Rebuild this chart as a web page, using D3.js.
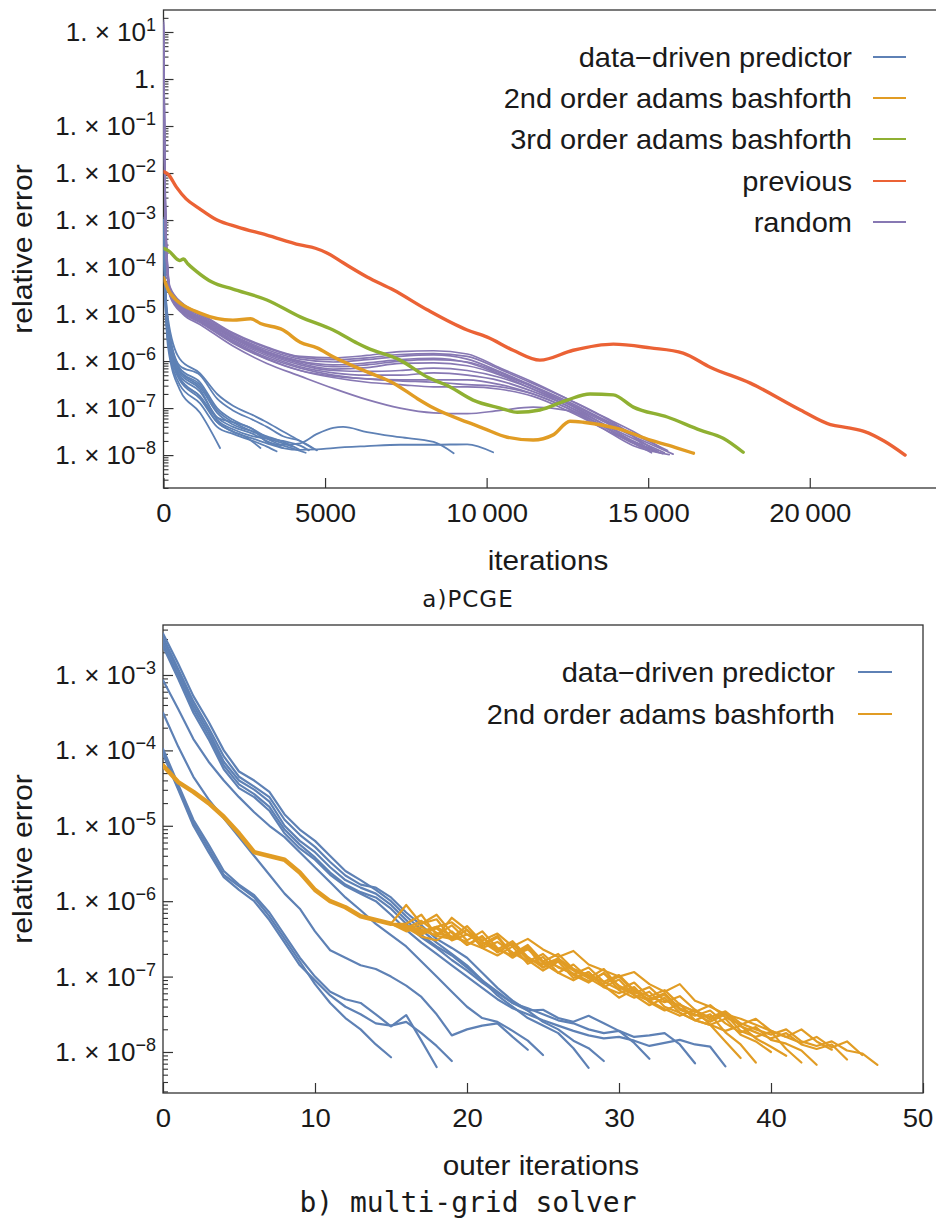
<!DOCTYPE html>
<html><head><meta charset="utf-8">
<script src="https://cdn.jsdelivr.net/npm/d3@7"></script>
<style>
body{margin:0;background:#fff}
svg{display:block}
text{font-family:"Liberation Sans",Arial,sans-serif;fill:#1a1a1a}
</style>
</head><body><svg id="c" width="936" height="1224"></svg>
<script>
// ================= DATA (values are log10 of relative error) =================
// ---- (a) PCGE : [iteration, log10(error)] ----
const pcgeLegend = ["data\u2212driven predictor","2nd order adams bashforth","3rd order adams bashforth","previous","random"];
const previousRun = [[0,-1.97],[150,-2.03],[400,-2.3],[700,-2.55],[1100,-2.75],[1660,-3.0],[2300,-3.15],[3200,-3.32],[4230,-3.53],[4700,-3.6],[5060,-3.7],[5560,-3.91],[6300,-4.21],[7120,-4.49],[8160,-4.91],[9400,-5.34],[10020,-5.49],[10820,-5.77],[11650,-5.98],[12680,-5.77],[13920,-5.64],[15070,-5.72],[16080,-5.83],[16920,-6.13],[18160,-6.47],[19710,-7.04],[20640,-7.35],[21200,-7.42],[21700,-7.5],[22300,-7.7],[22950,-8.0]];
const ab3Run = [[0,-3.6],[150,-3.65],[500,-3.86],[620,-3.83],[750,-3.93],[1000,-4.08],[1500,-4.32],[2150,-4.47],[3200,-4.7],[4230,-5.06],[5250,-5.34],[6000,-5.62],[6300,-5.72],[7320,-5.98],[8160,-6.34],[8870,-6.55],[9580,-6.83],[10420,-7.0],[10950,-7.09],[11650,-7.04],[12490,-6.83],[13200,-6.7],[13920,-6.72],[14540,-6.98],[15590,-7.19],[16610,-7.47],[17320,-7.64],[17940,-7.94]];
const ab2Run = [[0,-4.23],[200,-4.55],[1130,-4.98],[2150,-5.13],[2700,-5.1],[3000,-5.2],[3700,-5.34],[4230,-5.6],[4750,-5.72],[5250,-5.91],[6300,-6.23],[7120,-6.47],[7860,-6.8],[8360,-7.0],[9400,-7.3],[9900,-7.43],[10640,-7.62],[11440,-7.68],[12060,-7.57],[12580,-7.28],[12990,-7.3],[14030,-7.43],[15070,-7.68],[15900,-7.85],[16400,-7.96]];
const ddpRuns = [
 [[0,-3.0],[50,-4.5],[140,-5.7],[500,-6.6],[1130,-7.1],[1750,-7.85]],
 [[0,-3.1],[50,-4.6],[140,-5.5],[500,-6.3],[1130,-6.65],[1660,-7.2],[2150,-7.4],[2770,-7.55],[3200,-7.7],[3700,-7.85]],
 [[0,-3.0],[50,-4.4],[140,-5.3],[500,-6.2],[1130,-6.55],[1660,-7.1],[2150,-7.35],[2770,-7.5],[3200,-7.6],[3700,-7.72],[4200,-7.88]],
 [[0,-3.05],[50,-4.5],[140,-5.4],[500,-6.35],[1130,-6.75],[1660,-7.2],[2150,-7.3],[2770,-7.45],[3200,-7.72],[3700,-7.8],[4400,-7.95]],
 [[0,-2.95],[50,-4.3],[140,-5.2],[500,-6.1],[1130,-6.3],[1660,-6.8],[2150,-7.05],[2770,-7.25],[3200,-7.4],[3700,-7.6],[4230,-7.7],[4750,-7.9]],
 [[0,-3.0],[50,-4.4],[140,-5.35],[500,-6.25],[1130,-6.6],[1660,-7.25],[2150,-7.45],[2770,-7.6],[3200,-7.65],[3700,-7.75],[4000,-7.82]],
 [[0,-3.0],[50,-4.5],[140,-5.5],[500,-6.4],[1130,-6.8],[1660,-7.3],[2150,-7.5],[2770,-7.65],[3200,-7.75],[3700,-7.85],[4230,-7.89],[4750,-7.88],[5250,-7.85],[6300,-7.81],[7320,-7.78],[8360,-7.78],[9400,-7.77],[10200,-7.94]],
 [[0,-3.0],[50,-4.4],[140,-5.3],[500,-6.2],[1130,-6.5],[1660,-7.05],[2150,-7.3],[2770,-7.5],[3200,-7.65],[3700,-7.78],[4230,-7.75],[4750,-7.55],[5250,-7.42],[5560,-7.4],[6300,-7.51],[7320,-7.62],[8360,-7.72],[8980,-7.96]],
 [[0,-3.1],[50,-4.6],[140,-5.6],[500,-6.5],[1130,-6.9],[1660,-7.4],[2150,-7.55],[2770,-7.7],[3200,-7.82],[3500,-7.92]],
 [[0,-3.0],[50,-4.35],[140,-5.25],[500,-6.15],[1130,-6.45],[1660,-7.0],[2150,-7.25],[2770,-7.45],[3200,-7.62],[3700,-7.7],[4230,-7.8],[4500,-7.9]],
 [[0,-3.0],[50,-4.3],[140,-5.1],[500,-5.95],[1130,-6.26],[1660,-6.7],[2150,-6.95],[2770,-7.15],[3200,-7.3],[3700,-7.5],[4230,-7.7],[4600,-7.85]],
 [[0,-3.05],[50,-4.5],[140,-5.45],[500,-6.4],[1130,-6.75],[1660,-7.3],[2150,-7.5],[2500,-7.6],[3000,-7.85]]
];
const randomIters = [0,25,50,90,200,600,1130,2150,3200,4230,5250,6300,7320,8360,9400,10420,11440,12490,13510,14540];
const randomRuns = [
 [1.2,-0.6,-2.3,-3.5,-4.45,-4.8,-5.0,-5.42,-5.72,-5.92,-5.97,-5.93,-5.86,-5.84,-5.9,-6.18,-6.48,-6.8,-7.15,-7.5],
 [1.15,-0.7,-2.4,-3.55,-4.48,-4.83,-5.03,-5.45,-5.76,-5.96,-6.02,-5.97,-5.9,-5.87,-5.96,-6.23,-6.53,-6.85,-7.2,-7.55],
 [1.1,-0.8,-2.45,-3.6,-4.5,-4.86,-5.06,-5.48,-5.8,-6.0,-6.08,-6.04,-5.97,-5.94,-6.03,-6.28,-6.55,-6.9,-7.25,-7.6],
 [1.0,-0.9,-2.5,-3.6,-4.52,-4.88,-5.08,-5.5,-5.83,-6.05,-6.17,-6.14,-6.05,-6.04,-6.1,-6.3,-6.6,-6.9,-7.3,-7.65],
 [0.9,-1.0,-2.55,-3.65,-4.53,-4.9,-5.1,-5.52,-5.85,-6.08,-6.2,-6.22,-6.2,-6.15,-6.2,-6.35,-6.6,-6.95,-7.3,-7.7],
 [0.8,-1.1,-2.6,-3.7,-4.55,-4.92,-5.12,-5.55,-5.88,-6.12,-6.25,-6.3,-6.3,-6.25,-6.3,-6.42,-6.65,-6.95,-7.35,-7.72],
 [0.7,-1.2,-2.65,-3.7,-4.56,-4.93,-5.14,-5.58,-5.92,-6.15,-6.3,-6.38,-6.4,-6.4,-6.4,-6.5,-6.7,-7.0,-7.35,-7.75],
 [0.6,-1.3,-2.7,-3.75,-4.58,-4.95,-5.16,-5.6,-5.95,-6.2,-6.35,-6.45,-6.5,-6.55,-6.55,-6.6,-6.75,-7.05,-7.4,-7.8],
 [0.5,-1.4,-2.75,-3.8,-4.6,-4.97,-5.18,-5.62,-5.96,-6.2,-6.32,-6.38,-6.42,-6.45,-6.5,-6.55,-6.7,-7.0,-7.4,-7.75],
 [0.4,-1.5,-2.8,-3.85,-4.62,-5.0,-5.22,-5.68,-6.05,-6.32,-6.58,-6.82,-7.0,-7.1,-7.12,-7.05,-6.98,-7.05,-7.35,-7.72],
 [1.25,-0.5,-2.2,-3.45,-4.42,-4.78,-4.98,-5.4,-5.7,-5.9,-5.93,-5.88,-5.8,-5.78,-5.85,-6.15,-6.45,-6.8,-7.15,-7.6],
 [1.05,-0.85,-2.5,-3.6,-4.5,-4.87,-5.07,-5.47,-5.8,-6.02,-6.12,-6.08,-6.0,-5.97,-6.02,-6.25,-6.55,-6.88,-7.22,-7.6]
];
const randomEnds = [[15400,-7.85],[15600,-7.9],[15770,-7.98],[15500,-7.95],[15300,-7.92],[15200,-7.9],[15450,-7.97],[15650,-7.99],[15100,-7.95],[15300,-7.93],[15050,-7.92],[15200,-7.9]];

// ---- (b) multi-grid solver : log10(error) per outer iteration (index = iteration) ----
const mgLegend = ["data\u2212driven predictor","2nd order adams bashforth"];
const mgDdpRuns = [
 [-2.45,-2.85,-3.28,-3.62,-4.0,-4.28,-4.4,-4.55,-4.85,-5.05,-5.2,-5.4,-5.6,-5.72,-5.85,-6.0,-6.2,-6.38,-6.55,-6.7,-6.85,-7.05,-7.25,-7.4,-7.55,-7.65,-7.75,-7.95,-8.21],
 [-2.5,-2.92,-3.35,-3.7,-4.08,-4.35,-4.48,-4.62,-4.92,-5.12,-5.28,-5.48,-5.66,-5.78,-5.82,-5.95,-6.15,-6.32,-6.5,-6.62,-6.75,-6.95,-7.15,-7.32,-7.45,-7.6,-7.7,-7.85,-7.95,-8.12],
 [-2.55,-2.95,-3.4,-3.75,-4.15,-4.4,-4.52,-4.68,-5.0,-5.2,-5.35,-5.55,-5.72,-5.82,-5.9,-6.05,-6.25,-6.45,-6.6,-6.72,-6.88,-7.05,-7.2,-7.35,-7.45,-7.44,-7.55,-7.6,-7.52,-7.62,-7.72,-7.88,-8.09],
 [-2.6,-3.0,-3.45,-3.8,-4.2,-4.45,-4.58,-4.75,-5.05,-5.25,-5.42,-5.62,-5.78,-5.88,-5.95,-6.1,-6.3,-6.48,-6.62,-6.78,-6.92,-7.08,-7.22,-7.35,-7.42,-7.5,-7.58,-7.62,-7.7,-7.75,-7.72,-7.8,-7.78,-7.75,-7.9,-8.15],
 [-2.62,-3.05,-3.5,-3.85,-4.25,-4.5,-4.62,-4.8,-5.1,-5.3,-5.45,-5.65,-5.8,-5.9,-6.0,-6.18,-6.38,-6.55,-6.7,-6.85,-7.0,-7.15,-7.3,-7.42,-7.5,-7.58,-7.65,-7.72,-7.78,-7.82,-7.8,-7.85,-7.92,-7.88,-7.84,-7.9,-7.93,-8.19],
 [-3.07,-3.45,-3.85,-4.15,-4.4,-4.62,-4.82,-5.0,-5.15,-5.35,-5.55,-5.75,-5.95,-6.12,-6.3,-6.45,-6.6,-6.8,-7.0,-7.2,-7.4,-7.55,-7.6,-7.72,-7.85,-8.04],
 [-3.5,-3.95,-4.35,-4.65,-4.9,-5.15,-5.4,-5.65,-5.9,-6.1,-6.4,-6.65,-6.75,-6.85,-6.9,-7.0,-7.12,-7.27,-7.5,-7.78,-7.7,-7.65,-7.62,-7.8,-7.97],
 [-4.02,-4.5,-4.96,-5.3,-5.65,-5.8,-5.95,-6.2,-6.5,-6.8,-7.1,-7.35,-7.55,-7.7,-7.9,-8.07],
 [-3.98,-4.45,-4.92,-5.25,-5.6,-5.78,-5.92,-6.15,-6.45,-6.75,-7.0,-7.2,-7.3,-7.35,-7.5,-7.66,-7.51,-7.85,-8.2],
 [-4.05,-4.52,-5.0,-5.35,-5.68,-5.85,-6.0,-6.25,-6.55,-6.85,-7.05,-7.25,-7.4,-7.5,-7.62,-7.65,-7.6,-7.75,-7.92,-8.12]
];
// shared start (iterations 0..15) of the adams-bashforth runs, then each run's own tail (from iteration 16)
const mgAbHead = [-4.2,-4.42,-4.55,-4.7,-4.88,-5.1,-5.35,-5.4,-5.45,-5.62,-5.85,-6.0,-6.08,-6.2,-6.25,-6.3];
const mgAbTails = [
 [-6.3,-6.18,-6.45,-6.32,-6.52,-6.4,-6.62,-6.75,-6.62,-6.88,-6.76,-6.98,-7.08,-6.95,-7.18,-7.28,-7.2,-7.4,-7.48,-7.58,-7.64,-7.86,-8.08],
 [-6.05,-6.3,-6.24,-6.5,-6.38,-6.6,-6.48,-6.72,-6.6,-6.82,-6.95,-6.84,-7.02,-7.14,-7.04,-7.25,-7.38,-7.28,-7.48,-7.58,-7.5,-7.74,-7.9,-8.14],
 [-6.38,-6.3,-6.18,-6.42,-6.58,-6.46,-6.68,-6.56,-6.78,-6.92,-6.8,-7.02,-6.94,-7.14,-7.22,-7.14,-7.34,-7.45,-7.36,-7.58,-7.64,-7.56,-7.77,-7.86,-8.0],
 [-6.4,-6.34,-6.47,-6.22,-6.38,-6.62,-6.72,-6.6,-6.83,-6.74,-6.95,-7.05,-6.94,-7.12,-7.28,-7.17,-7.32,-7.43,-7.52,-7.44,-7.64,-7.72,-7.65,-7.82,-7.93,-8.05],
 [-6.33,-6.44,-6.36,-6.52,-6.44,-6.57,-6.46,-6.7,-6.58,-6.8,-6.7,-6.9,-7.0,-7.1,-7.0,-7.2,-7.3,-7.22,-7.42,-7.5,-7.6,-7.5,-7.72,-7.8,-7.73,-7.96,-8.14],
 [-6.36,-6.26,-6.42,-6.48,-6.33,-6.54,-6.64,-6.53,-6.74,-6.88,-6.78,-6.92,-7.02,-6.9,-7.14,-7.24,-7.32,-7.24,-7.44,-7.52,-7.45,-7.62,-7.74,-7.67,-7.84,-7.89,-7.98,-8.17],
 [-6.32,-6.42,-6.34,-6.28,-6.44,-6.52,-6.43,-6.6,-6.5,-6.64,-6.74,-6.66,-6.84,-6.92,-7.0,-6.94,-7.1,-7.2,-7.1,-7.32,-7.4,-7.5,-7.56,-7.64,-7.72,-7.8,-7.7,-7.86,-7.97],
 [-6.35,-6.47,-6.52,-6.4,-6.58,-6.48,-6.64,-6.72,-6.64,-6.8,-6.87,-6.97,-6.88,-7.07,-7.17,-7.08,-7.27,-7.34,-7.26,-7.44,-7.57,-7.48,-7.66,-7.74,-7.82,-7.75,-7.9,-7.96,-7.9,-8.1],
 [-6.34,-6.38,-6.46,-6.5,-6.38,-6.54,-6.67,-6.56,-6.76,-6.84,-6.76,-6.9,-6.98,-7.07,-6.98,-7.18,-7.26,-7.18,-7.37,-7.47,-7.38,-7.54,-7.64,-7.56,-7.72,-7.8,-7.88,-7.8,-7.94,-7.86,-8.04],
 [-6.37,-6.4,-6.34,-6.47,-6.54,-6.62,-6.54,-6.68,-6.8,-6.7,-6.88,-6.96,-7.06,-6.96,-7.12,-7.22,-7.14,-7.32,-7.38,-7.46,-7.54,-7.46,-7.62,-7.7,-7.77,-7.7,-7.86,-7.92,-7.86,-7.98,-8.02,-8.17]
];

// ---- tick labels ----
const topYTickExps = [1,0,-1,-2,-3,-4,-5,-6,-7,-8];
const topXTicks = [0,5000,10000,15000,20000];
const topXTickLabels = ["0","5000","10\u2009000","15\u2009000","20\u2009000"];
const botYTickExps = [-3,-4,-5,-6,-7,-8];
const botXTicks = [0,10,20,30,40,50];
const botXTickLabels = ["0","10","20","30","40","50"];

// colours (Mathematica default palette)
const COL = {blue:"#5e81b5", orange:"#e19c24", green:"#8fb032", red:"#eb6235", purple:"#8778b3"};

// ================= DRAWING =================
const svg = d3.select("#c");
const P = v => Math.pow(10, v);

function stext(parent, x, y, str, size, anchor, sx){
  return parent.append("text").attr("transform", `translate(${x},${y}) scale(${sx},1)`)
    .attr("text-anchor", anchor).style("font-size", size + "px").text(str);
}

function panel(cfg){
  const {x, y, yExps, xTicks, xLabels, xTitle, caption} = cfg;
  const [x0, x1] = x.range(); const [yb, yt] = y.range();
  const g = svg.append("g");
  const clipId = "clip" + cfg.id;
  svg.append("clipPath").attr("id", clipId).append("rect")
    .attr("x", x0).attr("y", yt).attr("width", x1 - x0).attr("height", yb - yt);

  // y ticks (major + minor), pointing inward
  const dom = y.domain();
  const lo = Math.floor(Math.log10(dom[0])), hi = Math.ceil(Math.log10(dom[1]));
  const majors = [], minors = [];
  for (let e = lo; e <= hi; e++) for (let k = 1; k <= 9; k++) {
    const v = k * Math.pow(10, e);
    if (v >= dom[0] && v <= dom[1]) (k === 1 ? majors : minors).push(v);
  }
  g.append("g").attr("transform", `translate(${x0},0)`).style("color","#333")
    .call(d3.axisLeft(y).tickValues(majors).tickSize(-10).tickFormat(""))
    .call(a => a.select(".domain").remove()).selectAll("line").attr("stroke-width",1.2);
  g.append("g").attr("transform", `translate(${x0},0)`).style("color","#333")
    .call(d3.axisLeft(y).tickValues(minors).tickSize(-5).tickFormat(""))
    .call(a => a.select(".domain").remove()).selectAll("line").attr("stroke-width",1.1);

  // x ticks with labels
  const xa = g.append("g").attr("transform", `translate(0,${yb})`).style("color","#333")
    .call(d3.axisBottom(x).tickValues(xTicks).tickSize(-10).tickFormat((d,i) => xLabels[i]));
  xa.select(".domain").remove();
  xa.selectAll("line").attr("stroke-width",1.2);
  xa.selectAll("text").attr("y", 0).attr("dy", null)
    .attr("transform", "translate(0,34) scale(1.1,1)")
    .style("font-size","25px").style("fill","#1a1a1a");
  // keep a label that sits on the page's right edge fully visible
  xa.selectAll("text").filter(d => x(d) > 905).attr("text-anchor","end").attr("x", 9);

  // y tick labels 1. × 10^e
  const yl = g.append("g");
  yExps.forEach(e => {
    const t = yl.append("text").attr("x", 156).attr("y", y(P(e)) + 9)
      .attr("text-anchor","end").style("font-size","26px");
    if (e === 0) { t.text("1."); return; }
    t.append("tspan").text("1. \u00d7 10");
    t.append("tspan").attr("dy", -10).style("font-size","18px").text(e < 0 ? "\u2212" + (-e) : String(e));
  });

  // frame
  g.append("rect").attr("x", x0).attr("y", yt).attr("width", x1 - x0).attr("height", yb - yt)
    .attr("fill","none").attr("stroke","#333").attr("stroke-width",1.3);

  // titles
  g.append("text").attr("transform", `translate(32,${(yb+yt)/2}) rotate(-90) scale(1.08,1)`)
    .attr("text-anchor","middle").style("font-size","28px").text("relative error");
  stext(g, cfg.xTitleX, cfg.xTitleY, xTitle, 27, "middle", 1.1);
  g.append("text").attr("x", 468).attr("y", cfg.captionY).attr("text-anchor","middle")
    .style("font-family", cfg.captionFont).style("font-size", cfg.captionSize)
    .style("letter-spacing", cfg.captionLS).text(caption);

  return svg.append("g").attr("clip-path", `url(#${clipId})`);
}

// ---------- panel (a) ----------
const xA = d3.scaleLinear().domain([0, 24000]).range([163.5, 939]);
const yA = d3.scaleLog().domain([P(-8.70), P(1.468)]).range([488, 10]);
const plotA = panel({id:"A", x:xA, y:yA, yExps:topYTickExps, xTicks:topXTicks, xLabels:topXTickLabels,
  xTitle:"iterations", xTitleX:548, xTitleY:570, caption:"a)PCGE", captionY:607,
  captionFont:"'DejaVu Sans',sans-serif", captionSize:"23px", captionLS:"1px"});
const lineA = d3.line().curve(d3.curveMonotoneX).x(d => xA(d[0])).y(d => yA(P(d[1])));
const drawA = (data, col, w) => plotA.append("path").datum(data).attr("d", lineA)
  .attr("fill","none").attr("stroke", col).attr("stroke-width", w)
  .attr("stroke-linejoin","round").attr("stroke-linecap","round");

ddpRuns.forEach(r => drawA(r, COL.blue, 1.8));
randomRuns.forEach((r, i) => drawA(randomIters.map((it, j) => [it, r[j]]).concat([randomEnds[i]]), COL.purple, 1.7));
drawA(ab2Run, COL.orange, 3.4);
drawA(ab3Run, COL.green, 3.4);
drawA(previousRun, COL.red, 3.4);

// legend (a)
const legA = svg.append("g");
const legColsA = [COL.blue, COL.orange, COL.green, COL.red, COL.purple];
const legRowsA = [57, 98, 139, 181, 222];
pcgeLegend.forEach((s, i) => {
  stext(legA, 852, legRowsA[i] + 9.5, s, 27, "end", 1.075);
  legA.append("line").attr("x1", 873).attr("x2", 906).attr("y1", legRowsA[i]).attr("y2", legRowsA[i])
    .attr("stroke", legColsA[i]).attr("stroke-width", 2.2);
});

// ---------- panel (b) ----------
const xB = d3.scaleLinear().domain([0, 50]).range([163, 923]);
const yB = d3.scaleLog().domain([P(-8.544), P(-2.337)]).range([1093, 625]);
const plotB = panel({id:"B", x:xB, y:yB, yExps:botYTickExps, xTicks:botXTicks, xLabels:botXTickLabels,
  xTitle:"outer iterations", xTitleX:541, xTitleY:1175, caption:"b) multi-grid solver", captionY:1212,
  captionFont:"'DejaVu Sans Mono',monospace", captionSize:"28px", captionLS:"0px"});
const lineB = d3.line().x((d, i) => xB(i)).y(d => yB(P(d)));
const drawB = (data, col, w) => plotB.append("path").datum(data).attr("d", lineB)
  .attr("fill","none").attr("stroke", col).attr("stroke-width", w)
  .attr("stroke-linejoin","round").attr("stroke-linecap","round");

mgDdpRuns.forEach(r => drawB(r, COL.blue, 2.2));
mgAbTails.forEach(t => drawB(mgAbHead.concat(t), COL.orange, 2.2));
drawB(mgAbHead, COL.orange, 4.5); // the overlapping common start reads as a thicker band

// legend (b)
const legB = svg.append("g");
const legColsB = [COL.blue, COL.orange];
const legRowsB = [672, 714];
mgLegend.forEach((s, i) => {
  stext(legB, 835, legRowsB[i] + 9.5, s, 27, "end", 1.075);
  legB.append("line").attr("x1", 858).attr("x2", 892).attr("y1", legRowsB[i]).attr("y2", legRowsB[i])
    .attr("stroke", legColsB[i]).attr("stroke-width", 2.2);
});
</script></body></html>
